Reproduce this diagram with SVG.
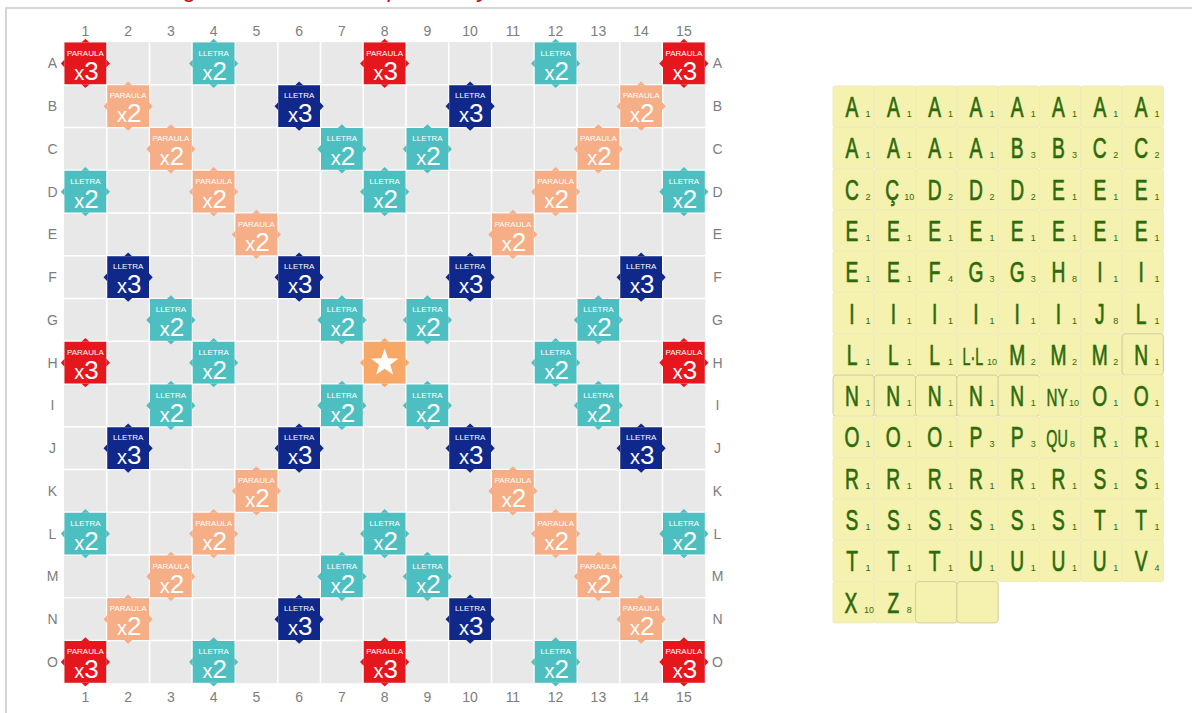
<svg xmlns="http://www.w3.org/2000/svg" xmlns:xlink="http://www.w3.org/1999/xlink" width="1192" height="713" viewBox="0 0 1192 713">
<style>
text{font-family:"Liberation Sans",Arial,sans-serif}
.ttl{font-size:24px;font-style:italic;fill:#c0141c}
.ax{font-size:14px;fill:#7d7d7d;text-anchor:middle}
.pl{font-size:8px;fill:#fff;text-anchor:middle}
.mu{font-size:26px;fill:#fff;text-anchor:middle}
.xs{font-size:20px}
.red{fill:#e5171c}.tea{fill:#4dbfc1}.ora{fill:#f6ae86}.nav{fill:#0f288a}.sta{fill:#f7a766}
.tl{fill:#f5f1ae;stroke:#efebbb;stroke-width:1}
.tb{fill:#f5f1ae;stroke:#d2ce9f;stroke-width:1}
.Lt{font-size:30px;fill:#2c6a0c;stroke:#2c6a0c;stroke-width:0.7;text-anchor:middle}
.Lm{font-size:23px;fill:#2c6a0c;stroke:#2c6a0c;stroke-width:0.5;text-anchor:middle}
.sc{font-size:9px;fill:#2c6a0c}
</style>
<defs>
<g id="sh"><rect x="0.5" y="0.5" width="41.75" height="41.75"/><path d="M17.4,0.5L25.4,0.5L21.4,-3.2ZM17.4,42.25L25.4,42.25L21.4,45.95ZM0.5,17.4L0.5,25.4L-3.2,21.4ZM42.25,17.4L42.25,25.4L45.95,21.4Z"/></g>
</defs>
<rect width="1192" height="713" fill="#fff"/>
<path d="M6,713V8H1192" fill="none" stroke="#d6d6d6" stroke-width="2"/>
<text class="ttl" y="-3.5"><tspan x="184">g</tspan><tspan x="388">p</tspan><tspan x="478">y</tspan></text>
<g id="board">
<rect x="64" y="42" width="641.25" height="641.25" fill="#e8e8e8"/>
<path d="M106.75,42V683.25M149.5,42V683.25M192.25,42V683.25M235,42V683.25M277.75,42V683.25M320.5,42V683.25M363.25,42V683.25M406,42V683.25M448.75,42V683.25M491.5,42V683.25M534.25,42V683.25M577,42V683.25M619.75,42V683.25M662.5,42V683.25M64,84.75H705.25M64,127.5H705.25M64,170.25H705.25M64,213H705.25M64,255.75H705.25M64,298.5H705.25M64,341.25H705.25M64,384H705.25M64,426.75H705.25M64,469.5H705.25M64,512.25H705.25M64,555H705.25M64,597.75H705.25M64,640.5H705.25" stroke="#fff" stroke-width="1.6" fill="none"/>
</g>
<g id="axis-labels">
<text class="ax" x="85.4" y="35.5">1</text><text class="ax" x="128.1" y="35.5">2</text><text class="ax" x="170.9" y="35.5">3</text><text class="ax" x="213.6" y="35.5">4</text><text class="ax" x="256.4" y="35.5">5</text><text class="ax" x="299.1" y="35.5">6</text><text class="ax" x="341.9" y="35.5">7</text><text class="ax" x="384.6" y="35.5">8</text><text class="ax" x="427.4" y="35.5">9</text><text class="ax" x="470.1" y="35.5">10</text><text class="ax" x="512.9" y="35.5">11</text><text class="ax" x="555.6" y="35.5">12</text><text class="ax" x="598.4" y="35.5">13</text><text class="ax" x="641.1" y="35.5">14</text><text class="ax" x="683.9" y="35.5">15</text>
<text class="ax" x="85.4" y="702">1</text><text class="ax" x="128.1" y="702">2</text><text class="ax" x="170.9" y="702">3</text><text class="ax" x="213.6" y="702">4</text><text class="ax" x="256.4" y="702">5</text><text class="ax" x="299.1" y="702">6</text><text class="ax" x="341.9" y="702">7</text><text class="ax" x="384.6" y="702">8</text><text class="ax" x="427.4" y="702">9</text><text class="ax" x="470.1" y="702">10</text><text class="ax" x="512.9" y="702">11</text><text class="ax" x="555.6" y="702">12</text><text class="ax" x="598.4" y="702">13</text><text class="ax" x="641.1" y="702">14</text><text class="ax" x="683.9" y="702">15</text>
<text class="ax" x="52.5" y="68.4">A</text><text class="ax" x="52.5" y="111.1">B</text><text class="ax" x="52.5" y="153.9">C</text><text class="ax" x="52.5" y="196.6">D</text><text class="ax" x="52.5" y="239.4">E</text><text class="ax" x="52.5" y="282.1">F</text><text class="ax" x="52.5" y="324.9">G</text><text class="ax" x="52.5" y="367.6">H</text><text class="ax" x="52.5" y="410.4">I</text><text class="ax" x="52.5" y="453.1">J</text><text class="ax" x="52.5" y="495.9">K</text><text class="ax" x="52.5" y="538.6">L</text><text class="ax" x="52.5" y="581.4">M</text><text class="ax" x="52.5" y="624.1">N</text><text class="ax" x="52.5" y="666.9">O</text>
<text class="ax" x="717.5" y="68.4">A</text><text class="ax" x="717.5" y="111.1">B</text><text class="ax" x="717.5" y="153.9">C</text><text class="ax" x="717.5" y="196.6">D</text><text class="ax" x="717.5" y="239.4">E</text><text class="ax" x="717.5" y="282.1">F</text><text class="ax" x="717.5" y="324.9">G</text><text class="ax" x="717.5" y="367.6">H</text><text class="ax" x="717.5" y="410.4">I</text><text class="ax" x="717.5" y="453.1">J</text><text class="ax" x="717.5" y="495.9">K</text><text class="ax" x="717.5" y="538.6">L</text><text class="ax" x="717.5" y="581.4">M</text><text class="ax" x="717.5" y="624.1">N</text><text class="ax" x="717.5" y="666.9">O</text>
</g>
<g id="premium">
<g id="sq-A1" transform="translate(64,42)"><use href="#sh" class="red"/><text class="pl" x="21.4" y="13.5">PARAULA</text><text class="mu" x="22.4" y="37.5"><tspan class="xs">x</tspan>3</text></g>
<g id="sq-A8" transform="translate(363.25,42)"><use href="#sh" class="red"/><text class="pl" x="21.4" y="13.5">PARAULA</text><text class="mu" x="22.4" y="37.5"><tspan class="xs">x</tspan>3</text></g>
<g id="sq-A15" transform="translate(662.5,42)"><use href="#sh" class="red"/><text class="pl" x="21.4" y="13.5">PARAULA</text><text class="mu" x="22.4" y="37.5"><tspan class="xs">x</tspan>3</text></g>
<g id="sq-H1" transform="translate(64,341.25)"><use href="#sh" class="red"/><text class="pl" x="21.4" y="13.5">PARAULA</text><text class="mu" x="22.4" y="37.5"><tspan class="xs">x</tspan>3</text></g>
<g id="sq-H15" transform="translate(662.5,341.25)"><use href="#sh" class="red"/><text class="pl" x="21.4" y="13.5">PARAULA</text><text class="mu" x="22.4" y="37.5"><tspan class="xs">x</tspan>3</text></g>
<g id="sq-O1" transform="translate(64,640.5)"><use href="#sh" class="red"/><text class="pl" x="21.4" y="13.5">PARAULA</text><text class="mu" x="22.4" y="37.5"><tspan class="xs">x</tspan>3</text></g>
<g id="sq-O8" transform="translate(363.25,640.5)"><use href="#sh" class="red"/><text class="pl" x="21.4" y="13.5">PARAULA</text><text class="mu" x="22.4" y="37.5"><tspan class="xs">x</tspan>3</text></g>
<g id="sq-O15" transform="translate(662.5,640.5)"><use href="#sh" class="red"/><text class="pl" x="21.4" y="13.5">PARAULA</text><text class="mu" x="22.4" y="37.5"><tspan class="xs">x</tspan>3</text></g>

<g id="sq-B2" transform="translate(106.75,84.75)"><use href="#sh" class="ora"/><text class="pl" x="21.4" y="13.5">PARAULA</text><text class="mu" x="22.4" y="37.5"><tspan class="xs">x</tspan>2</text></g>
<g id="sq-B14" transform="translate(619.75,84.75)"><use href="#sh" class="ora"/><text class="pl" x="21.4" y="13.5">PARAULA</text><text class="mu" x="22.4" y="37.5"><tspan class="xs">x</tspan>2</text></g>
<g id="sq-C3" transform="translate(149.5,127.5)"><use href="#sh" class="ora"/><text class="pl" x="21.4" y="13.5">PARAULA</text><text class="mu" x="22.4" y="37.5"><tspan class="xs">x</tspan>2</text></g>
<g id="sq-C13" transform="translate(577,127.5)"><use href="#sh" class="ora"/><text class="pl" x="21.4" y="13.5">PARAULA</text><text class="mu" x="22.4" y="37.5"><tspan class="xs">x</tspan>2</text></g>
<g id="sq-D4" transform="translate(192.25,170.25)"><use href="#sh" class="ora"/><text class="pl" x="21.4" y="13.5">PARAULA</text><text class="mu" x="22.4" y="37.5"><tspan class="xs">x</tspan>2</text></g>
<g id="sq-D12" transform="translate(534.25,170.25)"><use href="#sh" class="ora"/><text class="pl" x="21.4" y="13.5">PARAULA</text><text class="mu" x="22.4" y="37.5"><tspan class="xs">x</tspan>2</text></g>
<g id="sq-E5" transform="translate(235,213)"><use href="#sh" class="ora"/><text class="pl" x="21.4" y="13.5">PARAULA</text><text class="mu" x="22.4" y="37.5"><tspan class="xs">x</tspan>2</text></g>
<g id="sq-E11" transform="translate(491.5,213)"><use href="#sh" class="ora"/><text class="pl" x="21.4" y="13.5">PARAULA</text><text class="mu" x="22.4" y="37.5"><tspan class="xs">x</tspan>2</text></g>
<g id="sq-K5" transform="translate(235,469.5)"><use href="#sh" class="ora"/><text class="pl" x="21.4" y="13.5">PARAULA</text><text class="mu" x="22.4" y="37.5"><tspan class="xs">x</tspan>2</text></g>
<g id="sq-K11" transform="translate(491.5,469.5)"><use href="#sh" class="ora"/><text class="pl" x="21.4" y="13.5">PARAULA</text><text class="mu" x="22.4" y="37.5"><tspan class="xs">x</tspan>2</text></g>
<g id="sq-L4" transform="translate(192.25,512.25)"><use href="#sh" class="ora"/><text class="pl" x="21.4" y="13.5">PARAULA</text><text class="mu" x="22.4" y="37.5"><tspan class="xs">x</tspan>2</text></g>
<g id="sq-L12" transform="translate(534.25,512.25)"><use href="#sh" class="ora"/><text class="pl" x="21.4" y="13.5">PARAULA</text><text class="mu" x="22.4" y="37.5"><tspan class="xs">x</tspan>2</text></g>
<g id="sq-M3" transform="translate(149.5,555)"><use href="#sh" class="ora"/><text class="pl" x="21.4" y="13.5">PARAULA</text><text class="mu" x="22.4" y="37.5"><tspan class="xs">x</tspan>2</text></g>
<g id="sq-M13" transform="translate(577,555)"><use href="#sh" class="ora"/><text class="pl" x="21.4" y="13.5">PARAULA</text><text class="mu" x="22.4" y="37.5"><tspan class="xs">x</tspan>2</text></g>
<g id="sq-N2" transform="translate(106.75,597.75)"><use href="#sh" class="ora"/><text class="pl" x="21.4" y="13.5">PARAULA</text><text class="mu" x="22.4" y="37.5"><tspan class="xs">x</tspan>2</text></g>
<g id="sq-N14" transform="translate(619.75,597.75)"><use href="#sh" class="ora"/><text class="pl" x="21.4" y="13.5">PARAULA</text><text class="mu" x="22.4" y="37.5"><tspan class="xs">x</tspan>2</text></g>

<g id="sq-B6" transform="translate(277.75,84.75)"><use href="#sh" class="nav"/><text class="pl" x="21.4" y="13.5">LLETRA</text><text class="mu" x="22.4" y="37.5"><tspan class="xs">x</tspan>3</text></g>
<g id="sq-B10" transform="translate(448.75,84.75)"><use href="#sh" class="nav"/><text class="pl" x="21.4" y="13.5">LLETRA</text><text class="mu" x="22.4" y="37.5"><tspan class="xs">x</tspan>3</text></g>
<g id="sq-F2" transform="translate(106.75,255.75)"><use href="#sh" class="nav"/><text class="pl" x="21.4" y="13.5">LLETRA</text><text class="mu" x="22.4" y="37.5"><tspan class="xs">x</tspan>3</text></g>
<g id="sq-F6" transform="translate(277.75,255.75)"><use href="#sh" class="nav"/><text class="pl" x="21.4" y="13.5">LLETRA</text><text class="mu" x="22.4" y="37.5"><tspan class="xs">x</tspan>3</text></g>
<g id="sq-F10" transform="translate(448.75,255.75)"><use href="#sh" class="nav"/><text class="pl" x="21.4" y="13.5">LLETRA</text><text class="mu" x="22.4" y="37.5"><tspan class="xs">x</tspan>3</text></g>
<g id="sq-F14" transform="translate(619.75,255.75)"><use href="#sh" class="nav"/><text class="pl" x="21.4" y="13.5">LLETRA</text><text class="mu" x="22.4" y="37.5"><tspan class="xs">x</tspan>3</text></g>
<g id="sq-J2" transform="translate(106.75,426.75)"><use href="#sh" class="nav"/><text class="pl" x="21.4" y="13.5">LLETRA</text><text class="mu" x="22.4" y="37.5"><tspan class="xs">x</tspan>3</text></g>
<g id="sq-J6" transform="translate(277.75,426.75)"><use href="#sh" class="nav"/><text class="pl" x="21.4" y="13.5">LLETRA</text><text class="mu" x="22.4" y="37.5"><tspan class="xs">x</tspan>3</text></g>
<g id="sq-J10" transform="translate(448.75,426.75)"><use href="#sh" class="nav"/><text class="pl" x="21.4" y="13.5">LLETRA</text><text class="mu" x="22.4" y="37.5"><tspan class="xs">x</tspan>3</text></g>
<g id="sq-J14" transform="translate(619.75,426.75)"><use href="#sh" class="nav"/><text class="pl" x="21.4" y="13.5">LLETRA</text><text class="mu" x="22.4" y="37.5"><tspan class="xs">x</tspan>3</text></g>
<g id="sq-N6" transform="translate(277.75,597.75)"><use href="#sh" class="nav"/><text class="pl" x="21.4" y="13.5">LLETRA</text><text class="mu" x="22.4" y="37.5"><tspan class="xs">x</tspan>3</text></g>
<g id="sq-N10" transform="translate(448.75,597.75)"><use href="#sh" class="nav"/><text class="pl" x="21.4" y="13.5">LLETRA</text><text class="mu" x="22.4" y="37.5"><tspan class="xs">x</tspan>3</text></g>

<g id="sq-A4" transform="translate(192.25,42)"><use href="#sh" class="tea"/><text class="pl" x="21.4" y="13.5">LLETRA</text><text class="mu" x="22.4" y="37.5"><tspan class="xs">x</tspan>2</text></g>
<g id="sq-A12" transform="translate(534.25,42)"><use href="#sh" class="tea"/><text class="pl" x="21.4" y="13.5">LLETRA</text><text class="mu" x="22.4" y="37.5"><tspan class="xs">x</tspan>2</text></g>
<g id="sq-C7" transform="translate(320.5,127.5)"><use href="#sh" class="tea"/><text class="pl" x="21.4" y="13.5">LLETRA</text><text class="mu" x="22.4" y="37.5"><tspan class="xs">x</tspan>2</text></g>
<g id="sq-C9" transform="translate(406,127.5)"><use href="#sh" class="tea"/><text class="pl" x="21.4" y="13.5">LLETRA</text><text class="mu" x="22.4" y="37.5"><tspan class="xs">x</tspan>2</text></g>
<g id="sq-D1" transform="translate(64,170.25)"><use href="#sh" class="tea"/><text class="pl" x="21.4" y="13.5">LLETRA</text><text class="mu" x="22.4" y="37.5"><tspan class="xs">x</tspan>2</text></g>
<g id="sq-D8" transform="translate(363.25,170.25)"><use href="#sh" class="tea"/><text class="pl" x="21.4" y="13.5">LLETRA</text><text class="mu" x="22.4" y="37.5"><tspan class="xs">x</tspan>2</text></g>
<g id="sq-D15" transform="translate(662.5,170.25)"><use href="#sh" class="tea"/><text class="pl" x="21.4" y="13.5">LLETRA</text><text class="mu" x="22.4" y="37.5"><tspan class="xs">x</tspan>2</text></g>
<g id="sq-G3" transform="translate(149.5,298.5)"><use href="#sh" class="tea"/><text class="pl" x="21.4" y="13.5">LLETRA</text><text class="mu" x="22.4" y="37.5"><tspan class="xs">x</tspan>2</text></g>
<g id="sq-G7" transform="translate(320.5,298.5)"><use href="#sh" class="tea"/><text class="pl" x="21.4" y="13.5">LLETRA</text><text class="mu" x="22.4" y="37.5"><tspan class="xs">x</tspan>2</text></g>
<g id="sq-G9" transform="translate(406,298.5)"><use href="#sh" class="tea"/><text class="pl" x="21.4" y="13.5">LLETRA</text><text class="mu" x="22.4" y="37.5"><tspan class="xs">x</tspan>2</text></g>
<g id="sq-G13" transform="translate(577,298.5)"><use href="#sh" class="tea"/><text class="pl" x="21.4" y="13.5">LLETRA</text><text class="mu" x="22.4" y="37.5"><tspan class="xs">x</tspan>2</text></g>
<g id="sq-H4" transform="translate(192.25,341.25)"><use href="#sh" class="tea"/><text class="pl" x="21.4" y="13.5">LLETRA</text><text class="mu" x="22.4" y="37.5"><tspan class="xs">x</tspan>2</text></g>
<g id="sq-H12" transform="translate(534.25,341.25)"><use href="#sh" class="tea"/><text class="pl" x="21.4" y="13.5">LLETRA</text><text class="mu" x="22.4" y="37.5"><tspan class="xs">x</tspan>2</text></g>
<g id="sq-I3" transform="translate(149.5,384)"><use href="#sh" class="tea"/><text class="pl" x="21.4" y="13.5">LLETRA</text><text class="mu" x="22.4" y="37.5"><tspan class="xs">x</tspan>2</text></g>
<g id="sq-I7" transform="translate(320.5,384)"><use href="#sh" class="tea"/><text class="pl" x="21.4" y="13.5">LLETRA</text><text class="mu" x="22.4" y="37.5"><tspan class="xs">x</tspan>2</text></g>
<g id="sq-I9" transform="translate(406,384)"><use href="#sh" class="tea"/><text class="pl" x="21.4" y="13.5">LLETRA</text><text class="mu" x="22.4" y="37.5"><tspan class="xs">x</tspan>2</text></g>
<g id="sq-I13" transform="translate(577,384)"><use href="#sh" class="tea"/><text class="pl" x="21.4" y="13.5">LLETRA</text><text class="mu" x="22.4" y="37.5"><tspan class="xs">x</tspan>2</text></g>
<g id="sq-L1" transform="translate(64,512.25)"><use href="#sh" class="tea"/><text class="pl" x="21.4" y="13.5">LLETRA</text><text class="mu" x="22.4" y="37.5"><tspan class="xs">x</tspan>2</text></g>
<g id="sq-L8" transform="translate(363.25,512.25)"><use href="#sh" class="tea"/><text class="pl" x="21.4" y="13.5">LLETRA</text><text class="mu" x="22.4" y="37.5"><tspan class="xs">x</tspan>2</text></g>
<g id="sq-L15" transform="translate(662.5,512.25)"><use href="#sh" class="tea"/><text class="pl" x="21.4" y="13.5">LLETRA</text><text class="mu" x="22.4" y="37.5"><tspan class="xs">x</tspan>2</text></g>
<g id="sq-M7" transform="translate(320.5,555)"><use href="#sh" class="tea"/><text class="pl" x="21.4" y="13.5">LLETRA</text><text class="mu" x="22.4" y="37.5"><tspan class="xs">x</tspan>2</text></g>
<g id="sq-M9" transform="translate(406,555)"><use href="#sh" class="tea"/><text class="pl" x="21.4" y="13.5">LLETRA</text><text class="mu" x="22.4" y="37.5"><tspan class="xs">x</tspan>2</text></g>
<g id="sq-O4" transform="translate(192.25,640.5)"><use href="#sh" class="tea"/><text class="pl" x="21.4" y="13.5">LLETRA</text><text class="mu" x="22.4" y="37.5"><tspan class="xs">x</tspan>2</text></g>
<g id="sq-O12" transform="translate(534.25,640.5)"><use href="#sh" class="tea"/><text class="pl" x="21.4" y="13.5">LLETRA</text><text class="mu" x="22.4" y="37.5"><tspan class="xs">x</tspan>2</text></g>

<g id="sq-H8" transform="translate(363.25,341.25)"><use href="#sh" class="sta"/><polygon fill="#fff" points="21.4,7.4 24.8,17 35.2,17.2 27,23.4 29.9,33.3 21.4,27.4 12.9,33.3 15.8,23.4 7.6,17.2 18,17"/></g>
</g>

<g id="rack">
<g id="t1-1" transform="translate(833,86)"><rect class="tl" width="41.3" height="41.3" rx="2"/><text class="Lt" transform="translate(19,31) scale(.64,1)">A</text><text class="sc" x="32.5" y="31">1</text></g>
<g id="t1-2" transform="translate(874.3,86)"><rect class="tl" width="41.3" height="41.3" rx="2"/><text class="Lt" transform="translate(19,31) scale(.64,1)">A</text><text class="sc" x="32.5" y="31">1</text></g>
<g id="t1-3" transform="translate(915.6,86)"><rect class="tl" width="41.3" height="41.3" rx="2"/><text class="Lt" transform="translate(19,31) scale(.64,1)">A</text><text class="sc" x="32.5" y="31">1</text></g>
<g id="t1-4" transform="translate(956.9,86)"><rect class="tl" width="41.3" height="41.3" rx="2"/><text class="Lt" transform="translate(19,31) scale(.64,1)">A</text><text class="sc" x="32.5" y="31">1</text></g>
<g id="t1-5" transform="translate(998.2,86)"><rect class="tl" width="41.3" height="41.3" rx="2"/><text class="Lt" transform="translate(19,31) scale(.64,1)">A</text><text class="sc" x="32.5" y="31">1</text></g>
<g id="t1-6" transform="translate(1039.5,86)"><rect class="tl" width="41.3" height="41.3" rx="2"/><text class="Lt" transform="translate(19,31) scale(.64,1)">A</text><text class="sc" x="32.5" y="31">1</text></g>
<g id="t1-7" transform="translate(1080.8,86)"><rect class="tl" width="41.3" height="41.3" rx="2"/><text class="Lt" transform="translate(19,31) scale(.64,1)">A</text><text class="sc" x="32.5" y="31">1</text></g>
<g id="t1-8" transform="translate(1122.1,86)"><rect class="tl" width="41.3" height="41.3" rx="2"/><text class="Lt" transform="translate(19,31) scale(.64,1)">A</text><text class="sc" x="32.5" y="31">1</text></g>

<g id="t2-1" transform="translate(833,127.3)"><rect class="tl" width="41.3" height="41.3" rx="2"/><text class="Lt" transform="translate(19,31) scale(.64,1)">A</text><text class="sc" x="32.5" y="31">1</text></g>
<g id="t2-2" transform="translate(874.3,127.3)"><rect class="tl" width="41.3" height="41.3" rx="2"/><text class="Lt" transform="translate(19,31) scale(.64,1)">A</text><text class="sc" x="32.5" y="31">1</text></g>
<g id="t2-3" transform="translate(915.6,127.3)"><rect class="tl" width="41.3" height="41.3" rx="2"/><text class="Lt" transform="translate(19,31) scale(.64,1)">A</text><text class="sc" x="32.5" y="31">1</text></g>
<g id="t2-4" transform="translate(956.9,127.3)"><rect class="tl" width="41.3" height="41.3" rx="2"/><text class="Lt" transform="translate(19,31) scale(.64,1)">A</text><text class="sc" x="32.5" y="31">1</text></g>
<g id="t2-5" transform="translate(998.2,127.3)"><rect class="tl" width="41.3" height="41.3" rx="2"/><text class="Lt" transform="translate(19,31) scale(.64,1)">B</text><text class="sc" x="32.5" y="31">3</text></g>
<g id="t2-6" transform="translate(1039.5,127.3)"><rect class="tl" width="41.3" height="41.3" rx="2"/><text class="Lt" transform="translate(19,31) scale(.64,1)">B</text><text class="sc" x="32.5" y="31">3</text></g>
<g id="t2-7" transform="translate(1080.8,127.3)"><rect class="tl" width="41.3" height="41.3" rx="2"/><text class="Lt" transform="translate(19,31) scale(.64,1)">C</text><text class="sc" x="32.5" y="31">2</text></g>
<g id="t2-8" transform="translate(1122.1,127.3)"><rect class="tl" width="41.3" height="41.3" rx="2"/><text class="Lt" transform="translate(19,31) scale(.64,1)">C</text><text class="sc" x="32.5" y="31">2</text></g>

<g id="t3-1" transform="translate(833,168.6)"><rect class="tl" width="41.3" height="41.3" rx="2"/><text class="Lt" transform="translate(19,31) scale(.64,1)">C</text><text class="sc" x="32.5" y="31">2</text></g>
<g id="t3-2" transform="translate(874.3,168.6)"><rect class="tl" width="41.3" height="41.3" rx="2"/><text class="Lt" transform="translate(18,31) scale(.64,1)">Ç</text><text class="sc" x="30" y="31">10</text></g>
<g id="t3-3" transform="translate(915.6,168.6)"><rect class="tl" width="41.3" height="41.3" rx="2"/><text class="Lt" transform="translate(19,31) scale(.64,1)">D</text><text class="sc" x="32.5" y="31">2</text></g>
<g id="t3-4" transform="translate(956.9,168.6)"><rect class="tl" width="41.3" height="41.3" rx="2"/><text class="Lt" transform="translate(19,31) scale(.64,1)">D</text><text class="sc" x="32.5" y="31">2</text></g>
<g id="t3-5" transform="translate(998.2,168.6)"><rect class="tl" width="41.3" height="41.3" rx="2"/><text class="Lt" transform="translate(19,31) scale(.64,1)">D</text><text class="sc" x="32.5" y="31">2</text></g>
<g id="t3-6" transform="translate(1039.5,168.6)"><rect class="tl" width="41.3" height="41.3" rx="2"/><text class="Lt" transform="translate(19,31) scale(.64,1)">E</text><text class="sc" x="32.5" y="31">1</text></g>
<g id="t3-7" transform="translate(1080.8,168.6)"><rect class="tl" width="41.3" height="41.3" rx="2"/><text class="Lt" transform="translate(19,31) scale(.64,1)">E</text><text class="sc" x="32.5" y="31">1</text></g>
<g id="t3-8" transform="translate(1122.1,168.6)"><rect class="tl" width="41.3" height="41.3" rx="2"/><text class="Lt" transform="translate(19,31) scale(.64,1)">E</text><text class="sc" x="32.5" y="31">1</text></g>

<g id="t4-1" transform="translate(833,209.9)"><rect class="tl" width="41.3" height="41.3" rx="2"/><text class="Lt" transform="translate(19,31) scale(.64,1)">E</text><text class="sc" x="32.5" y="31">1</text></g>
<g id="t4-2" transform="translate(874.3,209.9)"><rect class="tl" width="41.3" height="41.3" rx="2"/><text class="Lt" transform="translate(19,31) scale(.64,1)">E</text><text class="sc" x="32.5" y="31">1</text></g>
<g id="t4-3" transform="translate(915.6,209.9)"><rect class="tl" width="41.3" height="41.3" rx="2"/><text class="Lt" transform="translate(19,31) scale(.64,1)">E</text><text class="sc" x="32.5" y="31">1</text></g>
<g id="t4-4" transform="translate(956.9,209.9)"><rect class="tl" width="41.3" height="41.3" rx="2"/><text class="Lt" transform="translate(19,31) scale(.64,1)">E</text><text class="sc" x="32.5" y="31">1</text></g>
<g id="t4-5" transform="translate(998.2,209.9)"><rect class="tl" width="41.3" height="41.3" rx="2"/><text class="Lt" transform="translate(19,31) scale(.64,1)">E</text><text class="sc" x="32.5" y="31">1</text></g>
<g id="t4-6" transform="translate(1039.5,209.9)"><rect class="tl" width="41.3" height="41.3" rx="2"/><text class="Lt" transform="translate(19,31) scale(.64,1)">E</text><text class="sc" x="32.5" y="31">1</text></g>
<g id="t4-7" transform="translate(1080.8,209.9)"><rect class="tl" width="41.3" height="41.3" rx="2"/><text class="Lt" transform="translate(19,31) scale(.64,1)">E</text><text class="sc" x="32.5" y="31">1</text></g>
<g id="t4-8" transform="translate(1122.1,209.9)"><rect class="tl" width="41.3" height="41.3" rx="2"/><text class="Lt" transform="translate(19,31) scale(.64,1)">E</text><text class="sc" x="32.5" y="31">1</text></g>

<g id="t5-1" transform="translate(833,251.2)"><rect class="tl" width="41.3" height="41.3" rx="2"/><text class="Lt" transform="translate(19,31) scale(.64,1)">E</text><text class="sc" x="32.5" y="31">1</text></g>
<g id="t5-2" transform="translate(874.3,251.2)"><rect class="tl" width="41.3" height="41.3" rx="2"/><text class="Lt" transform="translate(19,31) scale(.64,1)">E</text><text class="sc" x="32.5" y="31">1</text></g>
<g id="t5-3" transform="translate(915.6,251.2)"><rect class="tl" width="41.3" height="41.3" rx="2"/><text class="Lt" transform="translate(19,31) scale(.64,1)">F</text><text class="sc" x="32.5" y="31">4</text></g>
<g id="t5-4" transform="translate(956.9,251.2)"><rect class="tl" width="41.3" height="41.3" rx="2"/><text class="Lt" transform="translate(19,31) scale(.64,1)">G</text><text class="sc" x="32.5" y="31">3</text></g>
<g id="t5-5" transform="translate(998.2,251.2)"><rect class="tl" width="41.3" height="41.3" rx="2"/><text class="Lt" transform="translate(19,31) scale(.64,1)">G</text><text class="sc" x="32.5" y="31">3</text></g>
<g id="t5-6" transform="translate(1039.5,251.2)"><rect class="tl" width="41.3" height="41.3" rx="2"/><text class="Lt" transform="translate(19,31) scale(.64,1)">H</text><text class="sc" x="32.5" y="31">8</text></g>
<g id="t5-7" transform="translate(1080.8,251.2)"><rect class="tl" width="41.3" height="41.3" rx="2"/><text class="Lt" transform="translate(19,31) scale(.64,1)">I</text><text class="sc" x="32.5" y="31">1</text></g>
<g id="t5-8" transform="translate(1122.1,251.2)"><rect class="tl" width="41.3" height="41.3" rx="2"/><text class="Lt" transform="translate(19,31) scale(.64,1)">I</text><text class="sc" x="32.5" y="31">1</text></g>

<g id="t6-1" transform="translate(833,292.5)"><rect class="tl" width="41.3" height="41.3" rx="2"/><text class="Lt" transform="translate(19,31) scale(.64,1)">I</text><text class="sc" x="32.5" y="31">1</text></g>
<g id="t6-2" transform="translate(874.3,292.5)"><rect class="tl" width="41.3" height="41.3" rx="2"/><text class="Lt" transform="translate(19,31) scale(.64,1)">I</text><text class="sc" x="32.5" y="31">1</text></g>
<g id="t6-3" transform="translate(915.6,292.5)"><rect class="tl" width="41.3" height="41.3" rx="2"/><text class="Lt" transform="translate(19,31) scale(.64,1)">I</text><text class="sc" x="32.5" y="31">1</text></g>
<g id="t6-4" transform="translate(956.9,292.5)"><rect class="tl" width="41.3" height="41.3" rx="2"/><text class="Lt" transform="translate(19,31) scale(.64,1)">I</text><text class="sc" x="32.5" y="31">1</text></g>
<g id="t6-5" transform="translate(998.2,292.5)"><rect class="tl" width="41.3" height="41.3" rx="2"/><text class="Lt" transform="translate(19,31) scale(.64,1)">I</text><text class="sc" x="32.5" y="31">1</text></g>
<g id="t6-6" transform="translate(1039.5,292.5)"><rect class="tl" width="41.3" height="41.3" rx="2"/><text class="Lt" transform="translate(19,31) scale(.64,1)">I</text><text class="sc" x="32.5" y="31">1</text></g>
<g id="t6-7" transform="translate(1080.8,292.5)"><rect class="tl" width="41.3" height="41.3" rx="2"/><text class="Lt" transform="translate(19,31) scale(.64,1)">J</text><text class="sc" x="32.5" y="31">8</text></g>
<g id="t6-8" transform="translate(1122.1,292.5)"><rect class="tl" width="41.3" height="41.3" rx="2"/><text class="Lt" transform="translate(19,31) scale(.64,1)">L</text><text class="sc" x="32.5" y="31">1</text></g>

<g id="t7-1" transform="translate(833,333.8)"><rect class="tl" width="41.3" height="41.3" rx="2"/><text class="Lt" transform="translate(19,31) scale(.64,1)">L</text><text class="sc" x="32.5" y="31">1</text></g>
<g id="t7-2" transform="translate(874.3,333.8)"><rect class="tl" width="41.3" height="41.3" rx="2"/><text class="Lt" transform="translate(19,31) scale(.64,1)">L</text><text class="sc" x="32.5" y="31">1</text></g>
<g id="t7-3" transform="translate(915.6,333.8)"><rect class="tl" width="41.3" height="41.3" rx="2"/><text class="Lt" transform="translate(19,31) scale(.64,1)">L</text><text class="sc" x="32.5" y="31">1</text></g>
<g id="t7-4" transform="translate(956.9,333.8)"><rect class="tl" width="41.3" height="41.3" rx="2"/><text class="Lm" transform="translate(16,31) scale(.62,1)">L·L</text><text class="sc" x="30" y="31">10</text></g>
<g id="t7-5" transform="translate(998.2,333.8)"><rect class="tl" width="41.3" height="41.3" rx="2"/><text class="Lt" transform="translate(19,31) scale(.64,1)">M</text><text class="sc" x="32.5" y="31">2</text></g>
<g id="t7-6" transform="translate(1039.5,333.8)"><rect class="tl" width="41.3" height="41.3" rx="2"/><text class="Lt" transform="translate(19,31) scale(.64,1)">M</text><text class="sc" x="32.5" y="31">2</text></g>
<g id="t7-7" transform="translate(1080.8,333.8)"><rect class="tl" width="41.3" height="41.3" rx="2"/><text class="Lt" transform="translate(19,31) scale(.64,1)">M</text><text class="sc" x="32.5" y="31">2</text></g>
<g id="t7-8" transform="translate(1122.1,333.8)"><rect class="tb" width="41.3" height="41.3" rx="3"/><text class="Lt" transform="translate(19,31) scale(.64,1)">N</text><text class="sc" x="32.5" y="31">1</text></g>

<g id="t8-1" transform="translate(833,375.1)"><rect class="tb" width="41.3" height="41.3" rx="3"/><text class="Lt" transform="translate(19,31) scale(.64,1)">N</text><text class="sc" x="32.5" y="31">1</text></g>
<g id="t8-2" transform="translate(874.3,375.1)"><rect class="tb" width="41.3" height="41.3" rx="3"/><text class="Lt" transform="translate(19,31) scale(.64,1)">N</text><text class="sc" x="32.5" y="31">1</text></g>
<g id="t8-3" transform="translate(915.6,375.1)"><rect class="tb" width="41.3" height="41.3" rx="3"/><text class="Lt" transform="translate(19,31) scale(.64,1)">N</text><text class="sc" x="32.5" y="31">1</text></g>
<g id="t8-4" transform="translate(956.9,375.1)"><rect class="tb" width="41.3" height="41.3" rx="3"/><text class="Lt" transform="translate(19,31) scale(.64,1)">N</text><text class="sc" x="32.5" y="31">1</text></g>
<g id="t8-5" transform="translate(998.2,375.1)"><rect class="tb" width="41.3" height="41.3" rx="3"/><text class="Lt" transform="translate(19,31) scale(.64,1)">N</text><text class="sc" x="32.5" y="31">1</text></g>
<g id="t8-6" transform="translate(1039.5,375.1)"><rect class="tl" width="41.3" height="41.3" rx="2"/><text class="Lm" transform="translate(17.5,31) scale(.66,1)">NY</text><text class="sc" x="29.5" y="31">10</text></g>
<g id="t8-7" transform="translate(1080.8,375.1)"><rect class="tl" width="41.3" height="41.3" rx="2"/><text class="Lt" transform="translate(19,31) scale(.64,1)">O</text><text class="sc" x="32.5" y="31">1</text></g>
<g id="t8-8" transform="translate(1122.1,375.1)"><rect class="tl" width="41.3" height="41.3" rx="2"/><text class="Lt" transform="translate(19,31) scale(.64,1)">O</text><text class="sc" x="32.5" y="31">1</text></g>

<g id="t9-1" transform="translate(833,416.4)"><rect class="tl" width="41.3" height="41.3" rx="2"/><text class="Lt" transform="translate(19,31) scale(.64,1)">O</text><text class="sc" x="32.5" y="31">1</text></g>
<g id="t9-2" transform="translate(874.3,416.4)"><rect class="tl" width="41.3" height="41.3" rx="2"/><text class="Lt" transform="translate(19,31) scale(.64,1)">O</text><text class="sc" x="32.5" y="31">1</text></g>
<g id="t9-3" transform="translate(915.6,416.4)"><rect class="tl" width="41.3" height="41.3" rx="2"/><text class="Lt" transform="translate(19,31) scale(.64,1)">O</text><text class="sc" x="32.5" y="31">1</text></g>
<g id="t9-4" transform="translate(956.9,416.4)"><rect class="tl" width="41.3" height="41.3" rx="2"/><text class="Lt" transform="translate(19,31) scale(.64,1)">P</text><text class="sc" x="32.5" y="31">3</text></g>
<g id="t9-5" transform="translate(998.2,416.4)"><rect class="tl" width="41.3" height="41.3" rx="2"/><text class="Lt" transform="translate(19,31) scale(.64,1)">P</text><text class="sc" x="32.5" y="31">3</text></g>
<g id="t9-6" transform="translate(1039.5,416.4)"><rect class="tl" width="41.3" height="41.3" rx="2"/><text class="Lm" transform="translate(17.5,31) scale(.62,1)">QU</text><text class="sc" x="30.5" y="31">8</text></g>
<g id="t9-7" transform="translate(1080.8,416.4)"><rect class="tl" width="41.3" height="41.3" rx="2"/><text class="Lt" transform="translate(19,31) scale(.64,1)">R</text><text class="sc" x="32.5" y="31">1</text></g>
<g id="t9-8" transform="translate(1122.1,416.4)"><rect class="tl" width="41.3" height="41.3" rx="2"/><text class="Lt" transform="translate(19,31) scale(.64,1)">R</text><text class="sc" x="32.5" y="31">1</text></g>

<g id="t10-1" transform="translate(833,457.7)"><rect class="tl" width="41.3" height="41.3" rx="2"/><text class="Lt" transform="translate(19,31) scale(.64,1)">R</text><text class="sc" x="32.5" y="31">1</text></g>
<g id="t10-2" transform="translate(874.3,457.7)"><rect class="tl" width="41.3" height="41.3" rx="2"/><text class="Lt" transform="translate(19,31) scale(.64,1)">R</text><text class="sc" x="32.5" y="31">1</text></g>
<g id="t10-3" transform="translate(915.6,457.7)"><rect class="tl" width="41.3" height="41.3" rx="2"/><text class="Lt" transform="translate(19,31) scale(.64,1)">R</text><text class="sc" x="32.5" y="31">1</text></g>
<g id="t10-4" transform="translate(956.9,457.7)"><rect class="tl" width="41.3" height="41.3" rx="2"/><text class="Lt" transform="translate(19,31) scale(.64,1)">R</text><text class="sc" x="32.5" y="31">1</text></g>
<g id="t10-5" transform="translate(998.2,457.7)"><rect class="tl" width="41.3" height="41.3" rx="2"/><text class="Lt" transform="translate(19,31) scale(.64,1)">R</text><text class="sc" x="32.5" y="31">1</text></g>
<g id="t10-6" transform="translate(1039.5,457.7)"><rect class="tl" width="41.3" height="41.3" rx="2"/><text class="Lt" transform="translate(19,31) scale(.64,1)">R</text><text class="sc" x="32.5" y="31">1</text></g>
<g id="t10-7" transform="translate(1080.8,457.7)"><rect class="tl" width="41.3" height="41.3" rx="2"/><text class="Lt" transform="translate(19,31) scale(.64,1)">S</text><text class="sc" x="32.5" y="31">1</text></g>
<g id="t10-8" transform="translate(1122.1,457.7)"><rect class="tl" width="41.3" height="41.3" rx="2"/><text class="Lt" transform="translate(19,31) scale(.64,1)">S</text><text class="sc" x="32.5" y="31">1</text></g>

<g id="t11-1" transform="translate(833,499)"><rect class="tl" width="41.3" height="41.3" rx="2"/><text class="Lt" transform="translate(19,31) scale(.64,1)">S</text><text class="sc" x="32.5" y="31">1</text></g>
<g id="t11-2" transform="translate(874.3,499)"><rect class="tl" width="41.3" height="41.3" rx="2"/><text class="Lt" transform="translate(19,31) scale(.64,1)">S</text><text class="sc" x="32.5" y="31">1</text></g>
<g id="t11-3" transform="translate(915.6,499)"><rect class="tl" width="41.3" height="41.3" rx="2"/><text class="Lt" transform="translate(19,31) scale(.64,1)">S</text><text class="sc" x="32.5" y="31">1</text></g>
<g id="t11-4" transform="translate(956.9,499)"><rect class="tl" width="41.3" height="41.3" rx="2"/><text class="Lt" transform="translate(19,31) scale(.64,1)">S</text><text class="sc" x="32.5" y="31">1</text></g>
<g id="t11-5" transform="translate(998.2,499)"><rect class="tl" width="41.3" height="41.3" rx="2"/><text class="Lt" transform="translate(19,31) scale(.64,1)">S</text><text class="sc" x="32.5" y="31">1</text></g>
<g id="t11-6" transform="translate(1039.5,499)"><rect class="tl" width="41.3" height="41.3" rx="2"/><text class="Lt" transform="translate(19,31) scale(.64,1)">S</text><text class="sc" x="32.5" y="31">1</text></g>
<g id="t11-7" transform="translate(1080.8,499)"><rect class="tl" width="41.3" height="41.3" rx="2"/><text class="Lt" transform="translate(19,31) scale(.64,1)">T</text><text class="sc" x="32.5" y="31">1</text></g>
<g id="t11-8" transform="translate(1122.1,499)"><rect class="tl" width="41.3" height="41.3" rx="2"/><text class="Lt" transform="translate(19,31) scale(.64,1)">T</text><text class="sc" x="32.5" y="31">1</text></g>

<g id="t12-1" transform="translate(833,540.3)"><rect class="tl" width="41.3" height="41.3" rx="2"/><text class="Lt" transform="translate(19,31) scale(.64,1)">T</text><text class="sc" x="32.5" y="31">1</text></g>
<g id="t12-2" transform="translate(874.3,540.3)"><rect class="tl" width="41.3" height="41.3" rx="2"/><text class="Lt" transform="translate(19,31) scale(.64,1)">T</text><text class="sc" x="32.5" y="31">1</text></g>
<g id="t12-3" transform="translate(915.6,540.3)"><rect class="tl" width="41.3" height="41.3" rx="2"/><text class="Lt" transform="translate(19,31) scale(.64,1)">T</text><text class="sc" x="32.5" y="31">1</text></g>
<g id="t12-4" transform="translate(956.9,540.3)"><rect class="tl" width="41.3" height="41.3" rx="2"/><text class="Lt" transform="translate(19,31) scale(.64,1)">U</text><text class="sc" x="32.5" y="31">1</text></g>
<g id="t12-5" transform="translate(998.2,540.3)"><rect class="tl" width="41.3" height="41.3" rx="2"/><text class="Lt" transform="translate(19,31) scale(.64,1)">U</text><text class="sc" x="32.5" y="31">1</text></g>
<g id="t12-6" transform="translate(1039.5,540.3)"><rect class="tl" width="41.3" height="41.3" rx="2"/><text class="Lt" transform="translate(19,31) scale(.64,1)">U</text><text class="sc" x="32.5" y="31">1</text></g>
<g id="t12-7" transform="translate(1080.8,540.3)"><rect class="tl" width="41.3" height="41.3" rx="2"/><text class="Lt" transform="translate(19,31) scale(.64,1)">U</text><text class="sc" x="32.5" y="31">1</text></g>
<g id="t12-8" transform="translate(1122.1,540.3)"><rect class="tl" width="41.3" height="41.3" rx="2"/><text class="Lt" transform="translate(19,31) scale(.64,1)">V</text><text class="sc" x="32.5" y="31">4</text></g>

<g id="t13-1" transform="translate(833,581.6)"><rect class="tl" width="41.3" height="41.3" rx="2"/><text class="Lt" transform="translate(18,31) scale(.64,1)">X</text><text class="sc" x="31" y="31">10</text></g>
<g id="t13-2" transform="translate(874.3,581.6)"><rect class="tl" width="41.3" height="41.3" rx="2"/><text class="Lt" transform="translate(19,31) scale(.64,1)">Z</text><text class="sc" x="32.5" y="31">8</text></g>
<g id="t13-3" transform="translate(915.6,581.6)"><rect class="tb" width="41.3" height="41.3" rx="3"/></g>
<g id="t13-4" transform="translate(956.9,581.6)"><rect class="tb" width="41.3" height="41.3" rx="3"/></g>
</g>
</svg>
